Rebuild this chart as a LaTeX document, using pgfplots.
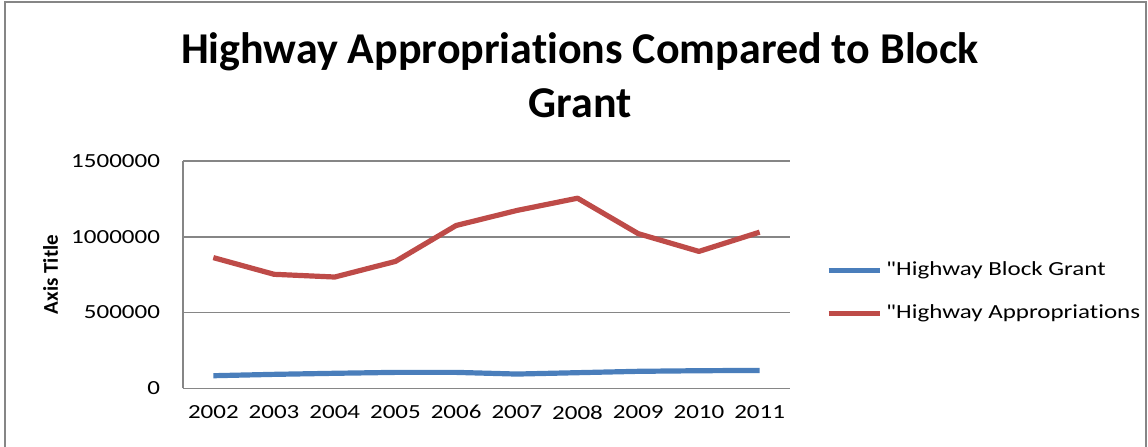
\documentclass[border=0pt]{standalone}
\usepackage{fontspec}
\setmainfont[Ligatures=NoCommon]{Carlito}
\newfontfamily\tickfont[FakeStretch=1.25, Ligatures=NoCommon]{Carlito}
\newfontfamily\titlefont[Ligatures=NoCommon]{Carlito}
\usepackage{pgfplots}
\pgfplotsset{compat=1.18}
\definecolor{exblue}{HTML}{4A7EBB}
\definecolor{exred}{HTML}{BE4B48}
\definecolor{exgrid}{HTML}{868686}
\begin{document}
\begin{tikzpicture}
\useasboundingbox (0,0) rectangle (574pt,223pt);
\draw[exgrid, line width=1pt] (2.5pt,-5pt) rectangle (573pt,222pt);
\node[font=\titlefont\bfseries\fontsize{22}{27}\selectfont, align=center, anchor=base] at (290pt,164.5pt) {Highway Appropriations Compared to Block\\Grant};
\begin{axis}[
  at={(91.5pt,28.85pt)}, anchor=south west,
  scale only axis, width=303.5pt, height=113.7pt,
  xmin=-0.5, xmax=9.5, ymin=0, ymax=1500000,
  xtick={0,...,9},
  xticklabels={2002,2003,2004,2005,2006,2007,2008,2009,2010,2011},
  ytick={0,500000,1000000,1500000},
  scaled y ticks=false,
  /pgf/number format/.cd, fixed, 1000 sep={}, assume math mode=true, /pgfplots/.cd,
  ymajorgrids,
  grid style={exgrid, line width=0.8pt},
  axis x line*=bottom, axis y line*=left,
  axis line style={exgrid, line width=0.8pt, -},
  major tick length=0pt,
  tick label style={font=\tickfont\fontsize{10}{12}\selectfont, text=black},
  xticklabel style={yshift=-5pt},
  yticklabel style={xshift=-8pt},
  ylabel={\bfseries Axis Title},
  ylabel style={font=\fontsize{10.5}{12}\selectfont, at={(axis description cs:-0.218,0.5)}, anchor=center},
  legend style={draw=none, fill=none, at={(1.059,0.425)}, anchor=west, inner sep=0pt,
    font=\tickfont\fontsize{10}{12}\selectfont, row sep=9pt},
  legend cell align=left,
  legend image code/.code={\draw[#1, line width=2.5pt] (0pt,0pt) -- (25.5pt,0pt);},
]
\addplot[exblue, line width=2.6pt, line join=round] coordinates {
  (0,83000) (1,92000) (2,99000) (3,105000) (4,105000) (5,94000) (6,103000) (7,112000) (8,116000) (9,118000)};
\addlegendentry{"Highway Block Grant}
\addplot[exred, line width=2.6pt, line join=round] coordinates {
  (0,862000) (1,752000) (2,734000) (3,837000) (4,1074000) (5,1173000) (6,1254000) (7,1020000) (8,903000) (9,1030000)};
\addlegendentry{"Highway Appropriations}
\end{axis}
\end{tikzpicture}
\end{document}
